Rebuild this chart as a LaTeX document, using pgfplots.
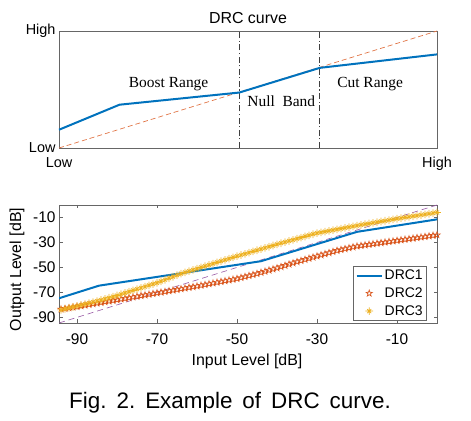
\documentclass[border=0pt]{standalone}
\usepackage{pgfplots}
\pgfplotsset{compat=1.18}
\usepackage{fontspec}
\setmainfont{Liberation Sans}
\newfontfamily\serifont{Liberation Serif}
\usetikzlibrary{plotmarks}
\definecolor{mblue}{HTML}{0072BD}
\definecolor{morange}{HTML}{D95319}
\definecolor{myellow}{HTML}{EDB120}
\definecolor{mpurple}{HTML}{7E2F8E}
\definecolor{axgray}{gray}{0.4}
\pgfdeclareplotmark{pent}{%
 \pgfpathmoveto{\pgfpointpolar{90}{\pgfplotmarksize}}%
 \pgfpathlineto{\pgfpointpolar{126}{0.4\pgfplotmarksize}}%
 \pgfpathlineto{\pgfpointpolar{162}{\pgfplotmarksize}}%
 \pgfpathlineto{\pgfpointpolar{198}{0.4\pgfplotmarksize}}%
 \pgfpathlineto{\pgfpointpolar{234}{\pgfplotmarksize}}%
 \pgfpathlineto{\pgfpointpolar{270}{0.4\pgfplotmarksize}}%
 \pgfpathlineto{\pgfpointpolar{306}{\pgfplotmarksize}}%
 \pgfpathlineto{\pgfpointpolar{342}{0.4\pgfplotmarksize}}%
 \pgfpathlineto{\pgfpointpolar{18}{\pgfplotmarksize}}%
 \pgfpathlineto{\pgfpointpolar{54}{0.4\pgfplotmarksize}}%
 \pgfpathclose\pgfusepathqstroke}
\pgfdeclareplotmark{ast}{%
 \pgfpathmoveto{\pgfqpoint{-\pgfplotmarksize}{0pt}}\pgfpathlineto{\pgfqpoint{\pgfplotmarksize}{0pt}}%
 \pgfpathmoveto{\pgfqpoint{0pt}{-\pgfplotmarksize}}\pgfpathlineto{\pgfqpoint{0pt}{\pgfplotmarksize}}%
 \pgfpathmoveto{\pgfpointpolar{45}{0.75\pgfplotmarksize}}\pgfpathlineto{\pgfpointpolar{225}{0.75\pgfplotmarksize}}%
 \pgfpathmoveto{\pgfpointpolar{135}{0.75\pgfplotmarksize}}\pgfpathlineto{\pgfpointpolar{315}{0.75\pgfplotmarksize}}%
 \pgfusepathqstroke}

\pgfplotstableread{
x y
-94 -83.5
-93 -82.96
-92 -82.43
-91 -81.89
-90 -81.36
-89 -80.82
-88 -80.29
-87 -79.75
-86 -79.21
-85 -78.68
-84 -78.14
-83 -77.61
-82 -77.07
-81 -76.54
-80 -76.0
-79 -75.45
-78 -74.9
-77 -74.35
-76 -73.8
-75 -73.25
-74 -72.7
-73 -72.15
-72 -71.6
-71 -71.05
-70 -70.5
-69 -69.95
-68 -69.4
-67 -68.85
-66 -68.3
-65 -67.75
-64 -67.2
-63 -66.65
-62 -66.1
-61 -65.55
-60 -65.0
-59 -64.4
-58 -63.8
-57 -63.2
-56 -62.6
-55 -62.0
-54 -61.4
-53 -60.8
-52 -60.2
-51 -59.6
-50 -59.0
-49 -58.2
-48 -57.4
-47 -56.6
-46 -55.8
-45 -55.0
-44 -54.1
-43 -53.2
-42 -52.3
-41 -51.4
-40 -50.5
-39 -49.5
-38 -48.5
-37 -47.5
-36 -46.5
-35 -45.5
-34 -44.6
-33 -43.7
-32 -42.8
-31 -41.9
-30 -41.0
-29 -40.1
-28 -39.2
-27 -38.3
-26 -37.4
-25 -36.5
-24 -35.8
-23 -35.1
-22 -34.4
-21 -33.7
-20 -33.0
-19 -32.55
-18 -32.1
-17 -31.65
-16 -31.2
-15 -30.75
-14 -30.3
-13 -29.85
-12 -29.4
-11 -28.95
-10 -28.5
-9 -28.05
-8 -27.6
-7 -27.15
-6 -26.7
-5 -26.25
-4 -25.8
-3 -25.35
-2 -24.9
-1 -24.45
0 -24.0
}\drctwo

\pgfplotstableread{
x y
-94 -84.0
-93 -83.22
-92 -82.44
-91 -81.67
-90 -80.89
-89 -80.11
-88 -79.33
-87 -78.56
-86 -77.78
-85 -77.0
-84 -76.1
-83 -75.2
-82 -74.3
-81 -73.4
-80 -72.5
-79 -71.48
-78 -70.46
-77 -69.44
-76 -68.42
-75 -67.4
-74 -66.38
-73 -65.36
-72 -64.34
-71 -63.32
-70 -62.3
-69 -61.08
-68 -59.87
-67 -58.65
-66 -57.43
-65 -56.22
-64 -55.0
-63 -54
-62 -53
-61 -52
-60 -51
-59 -50
-58 -49
-57 -48
-56 -47
-55 -46
-54 -45
-53 -44
-52 -43
-51 -42
-50 -41
-49 -40.05
-48 -39.1
-47 -38.15
-46 -37.2
-45 -36.25
-44 -35.3
-43 -34.35
-42 -33.4
-41 -32.45
-40 -31.5
-39 -30.6
-38 -29.7
-37 -28.8
-36 -27.9
-35 -27.0
-34 -26.1
-33 -25.2
-32 -24.3
-31 -23.4
-30 -22.5
-29 -21.9
-28 -21.3
-27 -20.7
-26 -20.1
-25 -19.5
-24 -18.9
-23 -18.3
-22 -17.7
-21 -17.1
-20 -16.5
-19 -15.95
-18 -15.4
-17 -14.85
-16 -14.3
-15 -13.75
-14 -13.2
-13 -12.65
-12 -12.1
-11 -11.55
-10 -11.0
-9 -10.5
-8 -10.0
-7 -9.5
-6 -9.0
-5 -8.5
-4 -8.0
-3 -7.5
-2 -7.0
-1 -6.5
0 -6.0
}\drcthree

\begin{document}
\begin{tikzpicture}
\useasboundingbox (0,0) rectangle (471bp,421bp);
% ---------- top panel ----------
\begin{axis}[
  at={(59bp,273bp)}, anchor=south west, scale only axis,
  width=378bp, height=117bp,
  xmin=0, xmax=1, ymin=0, ymax=1,
  axis line style={axgray, line width=0.6bp},
  tick style={axgray, line width=0.6bp},
  tick align=inside, major tick length=3bp,
  xtick={0,1}, xticklabels={Low,High},
  ytick={0,1}, yticklabels={Low,High},
  xticklabel style={font=\fontsize{14.5}{15}\selectfont, yshift=-6bp},
  yticklabel style={font=\fontsize{14.5}{15}\selectfont},
  clip=false,
]
\addplot[morange!80, line width=0.7bp, dash pattern=on 5bp off 3bp] coordinates {(0,0) (1,1)};
\addplot[black!75, line width=0.8bp, dash pattern=on 6bp off 2.5bp on 1.2bp off 2.5bp] coordinates {(0.477,0) (0.477,1)};
\addplot[black!75, line width=0.8bp, dash pattern=on 6bp off 2.5bp on 1.2bp off 2.5bp] coordinates {(0.69,0) (0.69,1)};
\addplot[mblue, line width=2bp] coordinates {(0,0.156) (0.16,0.37) (0.477,0.474) (0.69,0.685) (1,0.80)};
\node[font=\serifont\fontsize{15.5}{16}\selectfont] at (axis cs:0.29,0.547) {Boost Range};
\node[font=\serifont\fontsize{15.5}{16}\selectfont] at (axis cs:0.588,0.396) {Null\hspace{0.5em}Band};
\node[font=\serifont\fontsize{15.5}{16}\selectfont] at (axis cs:0.823,0.547) {Cut Range};
\end{axis}
\node[font=\fontsize{16}{16}\selectfont] at (248bp,403.3bp) {DRC curve};
% ---------- bottom panel ----------
\begin{axis}[
  at={(59bp,98bp)}, anchor=south west, scale only axis,
  width=378bp, height=118bp,
  xmin=-94.5, xmax=0, ymin=-94.5, ymax=0,
  axis line style={axgray, line width=0.6bp},
  tick style={axgray, line width=0.6bp},
  tick align=inside, major tick length=3.5bp,
  xtick={-90,-70,-50,-30,-10}, xticklabels={-90,-70,-50,-30,-10},
  ytick={-90,-70,-50,-30,-10}, yticklabels={-90,-70,-50,-30,-10},
  xticklabel style={font=\fontsize{15.5}{16}\selectfont, yshift=-7bp},
  yticklabel style={font=\fontsize{15.5}{16}\selectfont},
  legend style={at={(0.9735,0.017)}, anchor=south east, draw=axgray, fill=white,
    font=\fontsize{14}{15}\selectfont, inner sep=2bp, row sep=2.5bp,
    line width=0.6bp},
  legend cell align=left,
  legend image code/.code={\draw[mark repeat=2,mark phase=2,#1] plot coordinates {(0bp,0bp) (12.5bp,0bp) (25bp,0bp)};},
]
\addplot[mpurple!80, line width=0.6bp, dash pattern=on 6bp off 4bp, forget plot] coordinates {(-94.5,-94.5) (0,0)};
\addplot[mblue, line width=2bp] coordinates {(-94.5,-74.7) (-84.5,-64.6) (-44,-45) (-20,-21.5) (0,-11.5)};
\addlegendentry{DRC1}
\addplot[morange, only marks, mark=pent, mark size=3.3bp, mark options={line width=0.65bp}] table[x=x,y=y] {\drctwo};
\addlegendentry{DRC2}
\addplot[myellow, only marks, mark=ast, mark size=3.8bp, mark options={line width=0.7bp}] table[x=x,y=y] {\drcthree};
\addlegendentry{DRC3}
\end{axis}
\node[font=\fontsize{16}{16}\selectfont] at (247bp,59.3bp) {Input Level [dB]};
\node[font=\fontsize{16}{16}\selectfont, rotate=90] at (17bp,151.5bp) {Output Level [dB]};
% ---------- caption ----------
\node[font=\fontsize{22.5}{23}\selectfont] at (230bp,18bp) {\spaceskip=10bp\xspaceskip=10bp\relax Fig. 2. Example of DRC curve.};
\end{tikzpicture}
\end{document}
